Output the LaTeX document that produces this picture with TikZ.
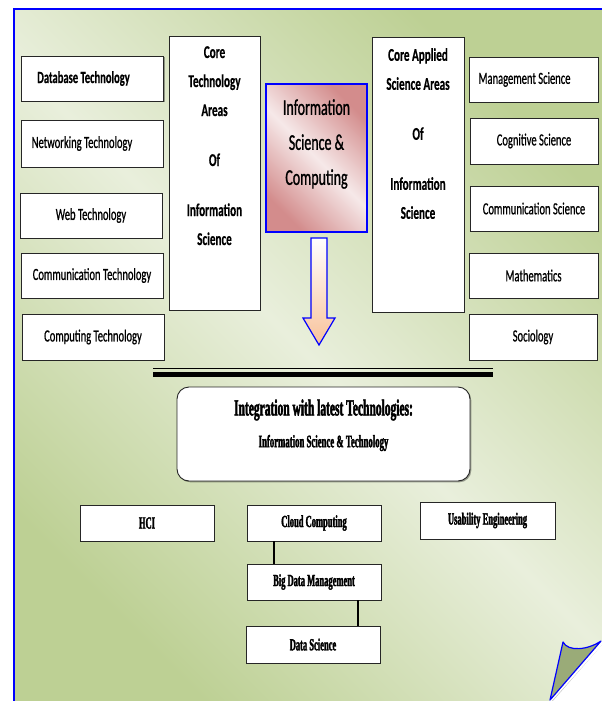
\documentclass[tikz,border=0pt]{standalone}
\usepackage{fontspec}
\newfontfamily\calfont[FakeStretch=0.62,UprightFeatures={FakeBold=0.7},BoldFeatures={FakeBold=0.4}]{Carlito}
\newfontfamily\centfont[FakeStretch=0.62,UprightFeatures={FakeBold=1.1}]{Carlito}
\newfontfamily\condfont[FakeStretch=0.5,BoldFeatures={FakeBold=1.8}]{Liberation Serif}
\usetikzlibrary{shadows}
\definecolor{gdark}{HTML}{BDD094}
\definecolor{glight}{HTML}{E9EFDC}
\definecolor{pdark}{HTML}{D38C8C}
\definecolor{plight}{HTML}{F6E9E9}
\definecolor{peach}{HTML}{F8C29A}
\definecolor{flap}{HTML}{9AAB78}
\begin{document}
\begin{tikzpicture}[x=1pt,y=-1pt,
  shad/.style={drop shadow={shadow xshift=1.3pt,shadow yshift=-1.3pt,opacity=0.35,fill=black}},
  box/.style={draw=black!85,line width=0.9pt,fill=white,inner sep=0pt,shad},
  lbox/.style={box,minimum width=142pt,minimum height=45pt,font=\calfont\fontsize{17}{20}\selectfont},
  rbox/.style={box,minimum width=129pt,minimum height=45pt,font=\calfont\fontsize{17}{20}\selectfont},
  tallbox/.style={box,minimum width=91pt,minimum height=274pt},
  talltext/.style={align=center,anchor=north,inner sep=0pt,font=\calfont\bfseries\fontsize{18}{29}\selectfont},
  bbox/.style={box,minimum width=134pt,minimum height=36pt,font=\condfont\bfseries\fontsize{17}{20}\selectfont},
  link/.style={draw=black,line width=1.8pt}
]
% page
\fill[white] (0,0) rectangle (602,701);
\useasboundingbox (0,0) rectangle (602,701);
% panel background
\shade[left color=gdark,right color=gdark,middle color=glight,shading angle=-45] (14,9) rectangle (602,701);
\draw[blue,line width=1.5pt] (14,701) -- (14,9) -- (602,9);
% folded corner
\fill[white] (550,701) -- (602,641) -- (602,701) -- cycle;
\fill[black,opacity=0.25] (552,701) -- (604,643) -- (604,701) -- cycle;
\fill[white] (553,701) -- (602,645) -- (602,701) -- cycle;
\filldraw[fill=flap,draw=blue,line width=1.2pt,line join=round]
  (550,700) -- (563,642) .. controls (568,652) and (588,650) .. (601,641) -- cycle;

% left column
\node[lbox,font=\calfont\bfseries\fontsize{17}{20}\selectfont] (db) at (92.5,78.5) {Database Technology\hspace*{18pt}};
\node[lbox,minimum height=47pt] (net) at (92,143.5) {Networking Technology\hspace*{20pt}};
\node[lbox] (web) at (91,215.5) {Web Technology};
\node[lbox] (comm) at (92,275.5) {Communication Technology};
\node[lbox,minimum height=46pt] (comp) at (93,337) {Computing Technology};

% core technology column
\node[tallbox] (ct) at (214.5,173) {};
\node[talltext] (ctt) at (214.5,46) {Core\\Technology\\Areas\\[21pt]Of\\[21pt]Information\\Science};

% central box
\node[box,draw=blue,line width=1.3pt,minimum width=101pt,minimum height=148pt,
  left color=pdark,right color=pdark,middle color=plight,shading angle=-45] (isc) at (316.5,158) {};
\node[align=center,inner sep=0pt,font=\centfont\fontsize{22.5}{35}\selectfont] (isct) at (316.5,144) {Information\\Science \&\\Computing};

% down arrow
\shade[top color=white,bottom color=peach,draw=blue,line width=1.2pt,line join=miter]
  (311,238) -- (327,238) -- (327,318) -- (335,318) -- (319,345) -- (303,318) -- (311,318) -- cycle;

% core applied column
\node[tallbox,minimum width=92pt,minimum height=275pt] (ca) at (418,174.5) {};
\node[talltext] (cat) at (418,48) {Core Applied\\Science Areas\\[21pt]Of\\[21pt]Information\\Science};

% right column
\node[rbox] (mgmt) at (533.5,79.5) {Management Science\hspace*{18pt}};
\node[rbox,minimum width=128pt,minimum height=46pt] (cog) at (534,141) {Cognitive Science};
\node[rbox,minimum width=128pt] (cs) at (534,208.5) {Communication Science};
\node[rbox] (math) at (533.5,275.5) {Mathematics};
\node[rbox,minimum width=128pt,minimum height=46pt] (soc) at (533,337) {Sociology};

% double rule
\coordinate (r1) at (153,368.5);
\coordinate (r2) at (493,368.5);
\coordinate (r3) at (153,374.5);
\coordinate (r4) at (493,374.5);
\draw[black,line width=1.2pt] (r1) -- (r2);
\draw[black,line width=4.2pt] (r3) -- (r4);

% integration box
\node[box,rounded corners=12pt,minimum width=293pt,minimum height=94pt] (intg) at (323.5,434) {};
\node[inner sep=0pt,font=\condfont\bfseries\fontsize{23}{26}\selectfont] (intt1) at (323.5,410) {Integration with latest Technologies:};
\node[inner sep=0pt,font=\condfont\bfseries\fontsize{17.5}{20}\selectfont] (intt2) at (323.5,443) {Information Science \& Technology};

% bottom boxes
\node[bbox] (hci) at (147,523) {HCI};
\node[bbox] (cloud) at (314,523) {Cloud Computing};
\node[bbox,minimum width=135pt,minimum height=37pt] (use) at (487.5,520.5) {Usability Engineering};
\node[bbox] (big) at (314,582) {Big Data Management};
\node[bbox,minimum height=37pt] (ds) at (313,644.5) {Data Science};

\draw[link] ([xshift=-40pt]cloud.south) -- ([xshift=-40pt]big.north);
\draw[link] ([xshift=44pt]big.south) -- ([xshift=45pt]ds.north);
\end{tikzpicture}
\end{document}
